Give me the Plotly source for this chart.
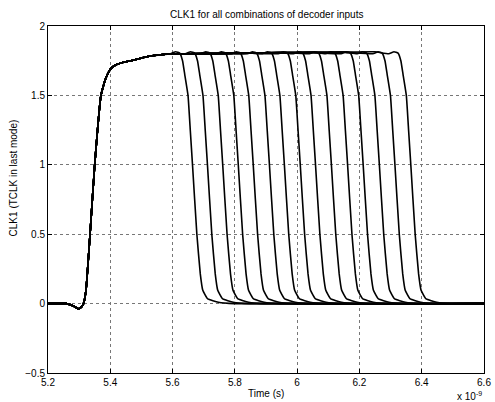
import plotly.graph_objects as go

# axis ticks (time in units of 1e-9 s)
x_ticks = [5.2, 5.4, 5.6, 5.8, 6.0, 6.2, 6.4, 6.6]
x_tick_labels = ["5.2", "5.4", "5.6", "5.8", "6", "6.2", "6.4", "6.6"]
y_ticks = [-0.5, 0, 0.5, 1, 1.5, 2]
y_tick_labels = ["\u22120.5", "0", "0.5", "1", "1.5", "2"]

# rising edge shared by all decoder input combinations
rise_t = [5.2, 5.259, 5.28, 5.299, 5.308, 5.314, 5.322, 5.335, 5.35, 5.37,
          5.378, 5.385, 5.395, 5.405, 5.42, 5.44, 5.47, 5.5, 5.54, 5.595]
rise_v = [0, 0, -0.015, -0.038, -0.022, 0, 0.095, 0.5, 1.0, 1.5,
          1.57, 1.62, 1.67, 1.70, 1.722, 1.737, 1.752, 1.77, 1.787, 1.80]

# high plateau level
plateau_t = [5.65, 5.75, 5.85, 5.95, 6.05, 6.15, 6.25, 6.35]
plateau_v = [1.80, 1.802, 1.805, 1.808, 1.81, 1.812, 1.814, 1.815]

# 50% crossing time of each falling edge (one per combination)
fall_t50 = [5.678, 5.726, 5.775, 5.825, 5.873, 5.925, 5.973, 6.024,
            6.073, 6.124, 6.176, 6.226, 6.278, 6.328, 6.379]

# falling edge shape, relative to its 50% crossing
fall_dt = [-0.085, -0.068, -0.055, -0.046, -0.039, -0.0284, -0.021, -0.014,
           0, 0.011, 0.019, 0.035, 0.069, 0.12]
fall_v = [1.80, 1.815, 1.805, 1.75, 1.652, 1.5, 1.245, 1.0,
          0.5, 0.214, 0.096, 0.034, 0.01, 0.0]

end_t = 6.6

fig = go.Figure()
for t50 in fall_t50:
    start_fall = t50 + fall_dt[0]
    xs, ys = [], []
    for t, v in zip(rise_t, rise_v):
        if t < start_fall - 0.005:
            xs.append(t); ys.append(v)
    for t, v in zip(plateau_t, plateau_v):
        if rise_t[-1] < t < start_fall - 0.01:
            xs.append(t); ys.append(v)
    for dt, v in zip(fall_dt, fall_v):
        xs.append(t50 + dt); ys.append(v)
    xs.append(end_t); ys.append(0)
    fig.add_trace(go.Scatter(x=xs, y=ys, mode="lines",
                             line=dict(color="black", width=1.6, shape="spline", smoothing=0.35),
                             showlegend=False, hoverinfo="skip"))

font = dict(family="Liberation Sans, Arial, sans-serif", size=10, color="black")

axis_common = dict(showline=True, linecolor="black", linewidth=1, mirror="ticks",
                   ticks="inside", ticklen=4, tickcolor="black",
                   showgrid=True, gridcolor="#777", gridwidth=1, griddash="dot",
                   zeroline=False, tickfont=font, ticklabeloverflow="allow")

fig.update_layout(
    width=495, height=402,
    margin=dict(l=48, r=4, t=26, b=29),
    paper_bgcolor="white", plot_bgcolor="white",
    font=font,
    xaxis=dict(range=[5.2, 6.6], tickvals=x_ticks, ticktext=x_tick_labels, **axis_common),
    yaxis=dict(range=[-0.5, 2], tickvals=y_ticks, ticktext=y_tick_labels, **axis_common),
    annotations=[
        dict(text="CLK1 for all combinations of decoder inputs", xref="paper", yref="paper",
             x=0.5, y=1.032, showarrow=False, xanchor="center", yanchor="middle", font=font),
        dict(text="CLK1 (TCLK in last mode)", xref="paper", yref="paper",
             x=-0.077, y=0.562, textangle=-90, showarrow=False,
             xanchor="center", yanchor="middle", font=font),
        dict(text="Time (s)", xref="paper", yref="paper",
             x=0.501, y=-0.058, showarrow=False, xanchor="center", yanchor="middle", font=font),
        dict(text="x 10<sup>-9</sup>", xref="paper", yref="paper",
             x=1.0, y=-0.066, showarrow=False, xanchor="right", yanchor="middle", font=font),
    ],
)

fig.write_html("out.html", config={"displayModeBar": False},
               post_script="document.body.style.margin='0';document.body.style.padding='0';")
